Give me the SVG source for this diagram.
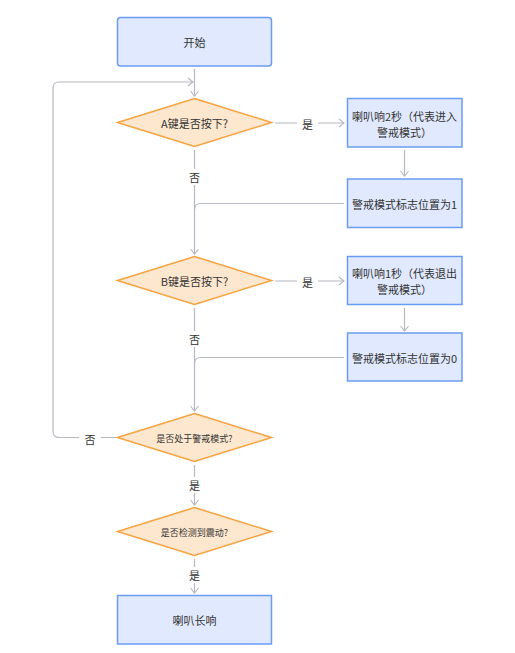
<svg xmlns="http://www.w3.org/2000/svg" width="515" height="653" viewBox="0 0 515 653">
<defs>
<marker id="arr" markerWidth="10" markerHeight="10" refX="7" refY="5" orient="auto" markerUnits="userSpaceOnUse">
<path d="M2,1 L7,5 L2,9" fill="none" stroke="#b4b8c0" stroke-width="1.1"/>
</marker>
<style>
.box{fill:#e0e9fd;stroke:#6b9cf4;stroke-width:1.5}
.dia{fill:#fde7cf;stroke:#f6a23e;stroke-width:1.5}
.ln{fill:none;stroke:#b4b8c0;stroke-width:1.2}
.t{font-family:"Noto Sans CJK SC","Noto Sans",sans-serif;font-size:11px;fill:#333;text-anchor:middle;dominant-baseline:central}
.s{font-size:9px}
.lb{fill:#fff}
</style>
</defs>
<rect width="515" height="653" fill="#fff"/>
<g id="connectors">
<path class="ln" d="M194.5,69 V96" marker-end="url(#arr)"/>
<path class="ln" d="M117,437.5 H59 Q53,437.5 53,431.5 V88 Q53,82 59,82 H193" marker-end="url(#arr)"/>
<path class="ln" d="M275,123 H344" marker-end="url(#arr)"/>
<path class="ln" d="M404.5,150 V176" marker-end="url(#arr)"/>
<path class="ln" d="M194.5,150 V254" marker-end="url(#arr)"/>
<path class="ln" d="M344,203.5 H200.5 Q194.5,203.5 194.5,209.5"/>
<path class="ln" d="M275,281 H344" marker-end="url(#arr)"/>
<path class="ln" d="M404.5,308 V331" marker-end="url(#arr)"/>
<path class="ln" d="M194.5,308 V411" marker-end="url(#arr)"/>
<path class="ln" d="M344,357.5 H200.5 Q194.5,357.5 194.5,363.5"/>
<path class="ln" d="M194.5,465 V505" marker-end="url(#arr)"/>
<path class="ln" d="M194.5,559 V593" marker-end="url(#arr)"/>
<rect class="lb" x="297" y="115" width="21" height="16"/>
<text class="t" x="307.5" y="123.5">是</text>
<rect class="lb" x="186" y="169" width="17" height="16"/>
<text class="t" x="194.5" y="176.5">否</text>
<rect class="lb" x="297" y="273" width="21" height="16"/>
<text class="t" x="307.5" y="281.5">是</text>
<rect class="lb" x="186" y="331" width="17" height="16"/>
<text class="t" x="194.5" y="338.5">否</text>
<rect class="lb" x="79" y="430" width="22" height="16"/>
<text class="t" x="90" y="438.5">否</text>
<rect class="lb" x="186" y="477" width="17" height="16"/>
<text class="t" x="194.5" y="484.5">是</text>
<rect class="lb" x="186" y="567" width="17" height="16"/>
<text class="t" x="194.5" y="574.5">是</text>
</g>
<g id="start">
<rect class="box" x="117.5" y="17.5" width="154" height="48.5" rx="3"/>
<text class="t" x="194.5" y="42">开始</text>
</g>
<g id="decA">
<polygon class="dia" points="194.5,98.5 271.5,122.5 194.5,146.5 117.5,122.5"/>
<text class="t" x="194.5" y="123">A键是否按下?</text>
</g>
<g id="beep2">
<rect class="box" x="347.5" y="98.5" width="114.5" height="48.5"/>
<text class="t" x="404.5" y="115.5">喇叭响2秒（代表进入</text>
<text class="t" x="404.5" y="131.5">警戒模式）</text>
</g>
<g id="flag1">
<rect class="box" x="347.5" y="179" width="114.5" height="48.5"/>
<text class="t" x="404.5" y="203.5">警戒模式标志位置为1</text>
</g>
<g id="decB">
<polygon class="dia" points="194.5,256.5 271.5,280.5 194.5,304.5 117.5,280.5"/>
<text class="t" x="194.5" y="281">B键是否按下?</text>
</g>
<g id="beep1">
<rect class="box" x="347.5" y="256.5" width="114.5" height="48"/>
<text class="t" x="404.5" y="273">喇叭响1秒（代表退出</text>
<text class="t" x="404.5" y="289">警戒模式）</text>
</g>
<g id="flag0">
<rect class="box" x="347.5" y="333" width="114.5" height="48"/>
<text class="t" x="404.5" y="357.5">警戒模式标志位置为0</text>
</g>
<g id="decC">
<polygon class="dia" points="194.5,413.5 271.5,437.5 194.5,461.5 117.5,437.5"/>
<text class="t s" x="194.5" y="438">是否处于警戒模式?</text>
</g>
<g id="decD">
<polygon class="dia" points="194.5,507.5 271.5,531.5 194.5,555.5 117.5,531.5"/>
<text class="t s" x="194.5" y="532">是否检测到震动?</text>
</g>
<g id="longbeep">
<rect class="box" x="117.5" y="595.5" width="154" height="48.5"/>
<text class="t" x="194.5" y="620">喇叭长响</text>
</g>
</svg>
